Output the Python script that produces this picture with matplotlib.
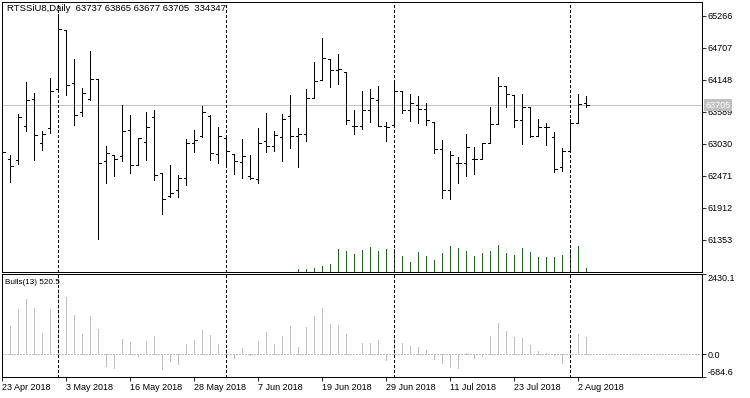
import matplotlib
matplotlib.use("Agg")
import matplotlib.pyplot as plt
import numpy as np

plt.rcParams['font.family'] = ['Liberation Sans', 'DejaVu Sans']

header = "RTSSiU8,Daily  63737 63865 63677 63705  334347"
indicator_name = "Bulls(13) 520.5"

opens = [62931, 62769, 62744, 63349, 63814, 63047, 63309, 63988, 65015, 64092,
         63593, 63807, 64162, 62734, 62844, 62826, 63279, 62657, 63065, 63505,
         62525, 62117, 62217, 62438, 63047, 63162, 63511, 62856, 63140, 62861,
         62717, 62466, 62420, 63087, 62995, 63152, 63518, 63175, 63209, 63831,
         64138, 64516, 64324, 64289, 63349, 63349, 63627, 63802, 63343, 63366,
         63958, 63615, 63709, 63640, 63413, 62948, 62217, 62699, 62699, 62769,
         62769, 63047, 63378, 64040, 63876, 63453, 63674, 63169, 63326, 63152,
         62629, 62908, 63389, 63737]
highs = [63140, 62844, 63552, 64115, 63923, 63249, 64185, 65299, 65021, 64516,
         64000, 64650, 64162, 62988, 62844, 63714, 63540, 63134, 63593, 63627,
         62525, 62664, 62490, 63122, 63279, 63697, 63540, 63319, 63157, 62861,
         63122, 62844, 63302, 63575, 63262, 63558, 63889, 63302, 63993, 64463,
         64881, 64516, 64608, 64289, 63627, 63958, 63988, 64040, 63418, 64150,
         63958, 63894, 63871, 63744, 63413, 63105, 62908, 62797, 63209, 62983,
         63047, 63680, 64197, 64040, 63889, 63906, 63674, 63471, 63396, 63239,
         62966, 63462, 63906, 63865]
lows = [62548, 62361, 62687, 63249, 62744, 62919, 63215, 63976, 63876, 63354,
        63511, 63796, 61363, 62344, 62466, 62727, 62518, 62657, 62751, 62396,
        61811, 62112, 62100, 62309, 62891, 63145, 62744, 62692, 62635, 62501,
        62438, 62413, 62351, 62884, 62908, 62727, 62953, 62629, 63082, 63831,
        64138, 64016, 64075, 63371, 63204, 63284, 63413, 63337, 63082, 63366,
        63563, 63424, 63389, 63354, 62873, 62083, 62065, 62344, 62466, 62501,
        62769, 63047, 63378, 63667, 63319, 63030, 63157, 63162, 63013, 62548,
        62553, 62896, 63389, 63677]
closes = [62891, 62652, 63505, 63802, 63187, 63209, 63958, 65033, 64058, 63528,
          63918, 64162, 62699, 62866, 62769, 63262, 62657, 63128, 63326, 62495,
          62072, 62170, 62443, 63047, 63105, 63587, 62873, 63169, 62908, 62734,
          62826, 62443, 63047, 63000, 63187, 63465, 63169, 63209, 63836, 64120,
          64533, 64324, 64336, 63453, 63349, 63615, 63824, 63343, 63331, 63953,
          63627, 63744, 63640, 63441, 62948, 62217, 62838, 62699, 62978, 62769,
          63040, 63378, 64045, 63906, 63453, 63674, 63169, 63326, 63319, 62588,
          62901, 63396, 63727, 63705]
volumes = [0] * 36 + [
    36000, 244000, 244000, 361000, 515000, 696000, 2051000, 1871000, 1599000, 1961000,
    2232000, 1871000, 2051000, 2051000, 1419000, 877000, 1780000, 1419000, 1057000, 1690000,
    2322000, 2142000, 1871000, 1419000, 1690000, 1871000, 2413000, 1690000, 1509000, 2142000,
    1780000, 1328000, 1355000, 1328000, 1509000, 2051000, 2322000, 334347]
bulls = [1100, 866, 1370, 1672, 1400, 655, 1370, 1974, 1732, 1198,
         624, 1158, 765, -342, -403, 463, 383, -40, 403, 554,
         -433, -191, -282, 312, 433, 735, 584, 312, 150, -100,
         191, -20, 413, 685, 322, 564, 866, 221, 836, 1168,
         1410, 926, 896, 624, 10, 352, 352, 433, -171, 524,
         352, 252, 232, 131, -131, -252, -373, -403, 40, -121,
         -50, 564, 957, 695, 524, 493, 272, 100, 50, -10,
         -252, 220, 624, 520.5]

date_labels = ["23 Apr 2018", "3 May 2018", "16 May 2018", "28 May 2018", "7 Jun 2018",
               "19 Jun 2018", "29 Jun 2018", "11 Jul 2018", "23 Jul 2018", "2 Aug 2018"]
month_starts = [7, 28, 49, 71]
price_ticks = [61353, 61912, 62471, 63030, 63589, 64148, 64707, 65266]
last_price = 63705
bulls_range = (-684.6, 2430.1)

W, H = 750, 398
x = np.arange(len(closes))
xlim = (-0.0375, 87.46)
LW = 0.6
crisp = dict(lw=LW, antialiased=False)

fig = plt.figure(figsize=(W / 100, H / 100), dpi=100)
ax = fig.add_axes([2 / W, 1 - 272 / H, 700 / W, 270 / H])
ax2 = fig.add_axes([2 / W, 1 - 377 / H, 700 / W, 103 / H])

# volumes in the lower part of the price window
vax = ax.twinx()
vax.vlines(x, 0, volumes, color="#008000", **crisp)
vax.set_ylim(0, 24.4e6)
vax.set_axis_off()

ax.axhline(last_price, color="#c0c0c0", zorder=0, **crisp)
ax.vlines(x, lows, highs, color="black", zorder=3, **crisp)
ax.hlines(opens, x - 0.3, x, color="black", zorder=3, **crisp)
ax.hlines(closes, x, x + 0.3, color="black", zorder=3, **crisp)
ax.set_xlim(*xlim)
ax.set_ylim(60794, 65508)
ax.set_zorder(vax.get_zorder() + 1)
ax.patch.set_visible(False)

ax2.axhline(0, color="#c0c0c0", ls=(0, (2.2, 1.5)), **crisp)
ax2.vlines(x, 0, bulls, color="#c0c0c0", **crisp)
ax2.set_xlim(*xlim)
ax2.set_ylim(*bulls_range)

for a in (ax, ax2):
    for s in month_starts:
        a.axvline(s, color="black", ls=(0, (2.6, 2.6)), zorder=4, **crisp)
    for sp in a.spines.values():
        sp.set_linewidth(LW)
        sp.set_antialiased(False)
    a.yaxis.tick_right()
    a.tick_params(axis="y", length=3, width=LW, pad=1, labelsize=6.5)

ax.set_xticks([])
ax.set_yticks(price_ticks)
ax.set_yticklabels([str(p) for p in price_ticks])

ax2.set_yticks([bulls_range[1], 0, bulls_range[0]])
ylabels = ax2.set_yticklabels(["%.1f" % bulls_range[1], "0.0", "%.1f" % bulls_range[0]])
ylabels[0].set_va("top")
ylabels[2].set_va("bottom")
ax2.set_xticks(range(0, 8 * len(date_labels), 8))
xlabels = ax2.set_xticklabels(date_labels)
for t in xlabels:
    t.set_ha("left")
ax2.tick_params(axis="x", length=3, width=LW, pad=1, labelsize=6.5)

ax.annotate(str(last_price), xy=(1, last_price), xycoords=("axes fraction", "data"),
            xytext=(2.5, 0), textcoords="offset points", va="center", ha="left",
            fontsize=6.5, color="white", zorder=10, annotation_clip=False,
            bbox=dict(boxstyle="square,pad=0.15", fc="#c0c0c0", ec="none"))

fig.text(7 / W, 1 - 8.5 / H, header, fontsize=6.8, va="center")
fig.text(5 / W, 1 - 283 / H, indicator_name, fontsize=5.9, va="center")

fig.savefig("out.png", dpi=100)
